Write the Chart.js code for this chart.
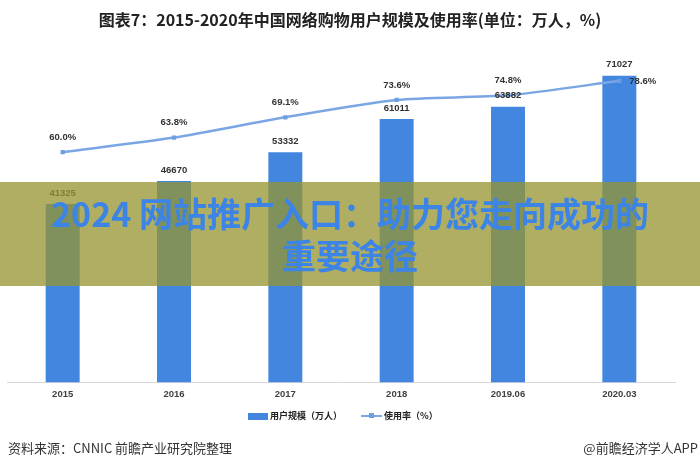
<!DOCTYPE html>
<html>
<head>
<meta charset="utf-8">
<script src="https://cdn.jsdelivr.net/npm/chart.js@4.4.0/dist/chart.umd.min.js"></script>
<style>
  html, body { margin: 0; padding: 0; background: #fff; }
  #wrap { position: relative; width: 700px; height: 469px; overflow: hidden; font-family: "Noto Sans CJK SC", "Noto Sans", sans-serif; }
  #chart { position: absolute; left: 0; top: 0; }
  .title { position: absolute; left: 0; width: 700px; top: 8px; text-align: center; font-size: 16px; font-weight: bold; color: #222; line-height: 22px; }
  .legend { position: absolute; top: 408px; left: 0; width: 700px; height: 16px; font-size: 9px; font-weight: bold; color: #222; }
  .legend span { position: absolute; line-height: 16px; }
  .box { position: absolute; left: 248px; top: 5px; width: 20px; height: 7px; background: #4286df; }
  .lline { position: absolute; left: 361px; top: 7px; width: 21px; height: 2px; background: #7aa6e4; }
  .ldot { position: absolute; left: 369px; top: 5px; width: 5px; height: 5px; background: #6d9fe0; }
  .band { position: absolute; left: 0; top: 182px; width: 700px; height: 104px; background: rgba(150, 148, 48, 0.76); text-align: center; }
  .band div { font-size: 34px; font-weight: bold; color: #3c84e6; line-height: 42px; }
  .src { position: absolute; top: 438px; font-size: 13px; color: #333; line-height: 20px; }
</style>
</head>
<body>
<div id="wrap">
  <canvas id="chart" width="700" height="469"></canvas>
  <div class="title">图表7：2015-2020年中国网络购物用户规模及使用率(单位：万人，%)</div>
  <div class="band">
    <div style="padding-top:10px">2024 网站推广入口：助力您走向成功的</div>
    <div>重要途径</div>
  </div>
  <div class="legend">
    <div class="box"></div><span style="left:270px">用户规模（万人）</span>
    <div class="lline"></div><div class="ldot"></div><span style="left:384px">使用率（%）</span>
  </div>
  <div class="src" style="left:8px">资料来源：CNNIC 前瞻产业研究院整理</div>
  <div class="src" style="right:2px">@前瞻经济学人APP</div>
</div>
<script>
const categories = ["2015", "2016", "2017", "2018", "2019.06", "2020.03"];
const userScale = [41325, 46670, 53332, 61011, 63882, 71027];
const usageRate = [60.0, 63.8, 69.1, 73.6, 74.8, 78.6];
const seriesNames = ["用户规模（万人）", "使用率（%）"];

const valueLabels = {
    id: "valueLabels",
    afterDatasetsDraw(chart) {
        const ctx = chart.ctx;
        ctx.save();
        ctx.fillStyle = "#333";
        ctx.font = "bold 9.5px 'Liberation Sans', sans-serif";
        ctx.textBaseline = "middle";
        // bar values above each bar
        chart.getDatasetMeta(0).data.forEach((bar, i) => {
            ctx.textAlign = "center";
            ctx.fillText(String(userScale[i]), bar.x, bar.y - 11);
        });
        // rate values above the points, last one to the right
        chart.getDatasetMeta(1).data.forEach((pt, i) => {
            const txt = usageRate[i].toFixed(1) + "%";
            if (i === usageRate.length - 1) {
                ctx.textAlign = "left";
                ctx.fillText(txt, pt.x + 10, pt.y + 1);
            } else {
                ctx.textAlign = "center";
                ctx.fillText(txt, pt.x, pt.y - 15);
            }
        });
        ctx.restore();
    }
};

const ctx = document.getElementById("chart").getContext("2d");
new Chart(ctx, {
    data: {
        labels: categories,
        datasets: [
            {
                type: "bar",
                label: seriesNames[0],
                data: userScale,
                backgroundColor: "#4286df",
                yAxisID: "y",
                order: 1,
                barPercentage: 0.305,
                categoryPercentage: 1,
            },
            {
                type: "line",
                label: seriesNames[1],
                data: usageRate,
                borderColor: "#7aa6e4",
                borderWidth: 2.5,
                backgroundColor: "#6d9fe0",
                pointStyle: "rect",
                pointRadius: 3,
                pointBorderWidth: 0,
                tension: 0.25,
                yAxisID: "y2",
                order: 0,
            },
        ],
    },
    options: {
        responsive: false,
        animation: false,
        layout: { padding: { top: 37, left: 7, right: 25, bottom: 63 } },
        plugins: { legend: { display: false }, tooltip: { enabled: false } },
        scales: {
            x: {
                grid: { display: false, drawTicks: false },
                border: { display: true, color: "#d9d9d9", width: 1 },
                ticks: {
                    padding: 6,
                    color: "#404040",
                    font: { family: "'Liberation Sans', sans-serif", size: 9.5, weight: "bold" },
                },
            },
            y: { display: false, min: 0, max: 80000 },
            y2: { display: false, min: 0, max: 90 },
        },
    },
    plugins: [valueLabels],
});
</script>
</body>
</html>
